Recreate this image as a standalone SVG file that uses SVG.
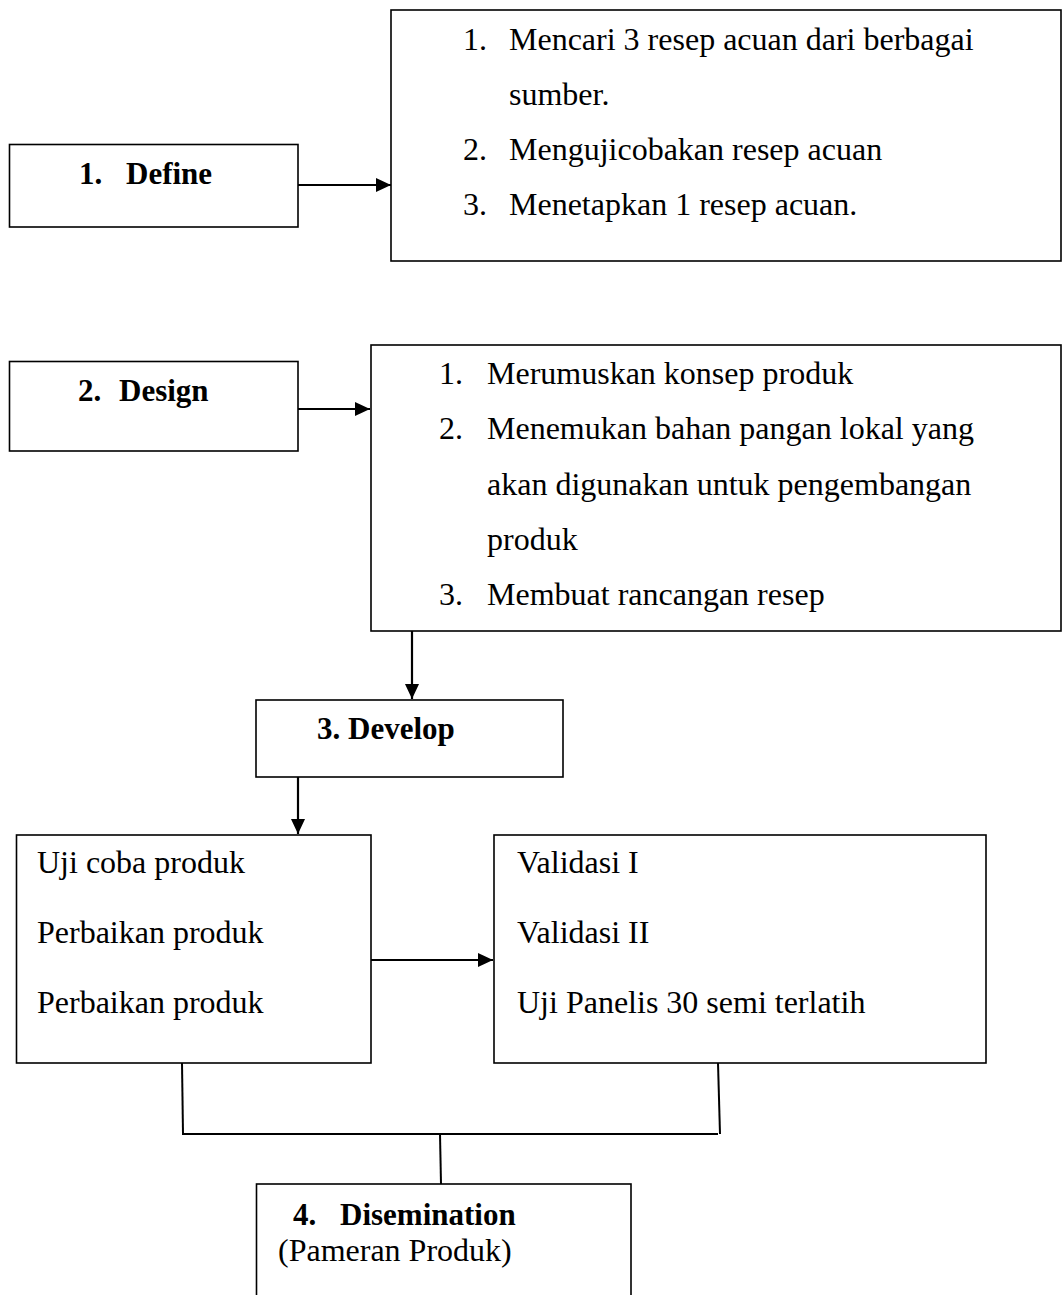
<svg xmlns="http://www.w3.org/2000/svg" width="1063" height="1295" viewBox="0 0 1063 1295">
<style>
.box{fill:#fff;stroke:#000;stroke-width:1.6}
.t{font-family:"Liberation Serif","Times New Roman",serif;font-size:32px;fill:#000}
.b{font-family:"Liberation Serif","Times New Roman",serif;font-size:31px;font-weight:bold;fill:#000}
.c{fill:none;stroke:#000;stroke-width:2}
.a{fill:none;stroke:#000;stroke-width:2.2}
</style>
<defs>
<marker id="arr" markerUnits="userSpaceOnUse" markerWidth="16" markerHeight="14" viewBox="0 0 16 14" refX="15" refY="7" orient="auto">
<path d="M0,0 L15,7 L0,14 Z" fill="#000"/>
</marker>
</defs>
<rect width="1063" height="1295" fill="#fff"/>
<g id="connectors">
<line class="a" x1="298" y1="185" x2="391" y2="185" marker-end="url(#arr)"/>
<line class="a" x1="298" y1="409" x2="370" y2="409" marker-end="url(#arr)"/>
<line class="a" x1="412" y1="631" x2="412" y2="699" marker-end="url(#arr)"/>
<line class="a" x1="298" y1="777" x2="298" y2="834" marker-end="url(#arr)"/>
<line class="a" x1="371" y1="960" x2="493" y2="960" marker-end="url(#arr)"/>
<line class="c" x1="182" y1="1063" x2="183" y2="1134"/>
<line class="c" x1="718" y1="1063" x2="720" y2="1134"/>
<line class="c" x1="182" y1="1134" x2="718" y2="1134"/>
<line class="c" x1="440" y1="1134" x2="441" y2="1184"/>
</g>
<g id="define">
<rect class="box" x="9.5" y="144.5" width="288.5" height="82.5"/>
<text class="b" x="79" y="184">1.</text>
<text class="b" x="126" y="184">Define</text>
</g>
<g id="define-steps">
<rect class="box" x="391" y="10" width="670" height="251"/>
<text class="t" x="463" y="50">1.</text>
<text class="t" x="509" y="50">Mencari 3 resep acuan dari berbagai</text>
<text class="t" x="509" y="105">sumber.</text>
<text class="t" x="463" y="160">2.</text>
<text class="t" x="509" y="160">Mengujicobakan resep acuan</text>
<text class="t" x="463" y="215">3.</text>
<text class="t" x="509" y="215">Menetapkan 1 resep acuan.</text>
</g>
<g id="design">
<rect class="box" x="9.5" y="361.5" width="288.5" height="89.5"/>
<text class="b" x="78" y="401">2.</text>
<text class="b" x="119" y="401">Design</text>
</g>
<g id="design-steps">
<rect class="box" x="371" y="345" width="690" height="286"/>
<text class="t" x="439" y="384">1.</text>
<text class="t" x="487" y="384">Merumuskan konsep produk</text>
<text class="t" x="439" y="439">2.</text>
<text class="t" x="487" y="439">Menemukan bahan pangan lokal yang</text>
<text class="t" x="487" y="495">akan digunakan untuk pengembangan</text>
<text class="t" x="487" y="550">produk</text>
<text class="t" x="439" y="605">3.</text>
<text class="t" x="487" y="605">Membuat rancangan resep</text>
</g>
<g id="develop">
<rect class="box" x="256" y="700" width="307" height="77"/>
<text class="b" x="317" y="739">3. Develop</text>
</g>
<g id="develop-trial">
<rect class="box" x="16.5" y="835" width="354.5" height="228"/>
<text class="t" x="37" y="873">Uji coba produk</text>
<text class="t" x="37" y="943">Perbaikan produk</text>
<text class="t" x="37" y="1013">Perbaikan produk</text>
</g>
<g id="develop-validation">
<rect class="box" x="494" y="835" width="492" height="228"/>
<text class="t" x="517" y="873">Validasi I</text>
<text class="t" x="517" y="943">Validasi II</text>
<text class="t" x="517" y="1013">Uji Panelis 30 semi terlatih</text>
</g>
<g id="dissemination">
<rect class="box" x="256.5" y="1184" width="374.5" height="130"/>
<text class="b" x="293" y="1225">4.</text>
<text class="b" x="340" y="1225">Disemination</text>
<text class="t" x="278" y="1261">(Pameran Produk)</text>
</g>
</svg>
